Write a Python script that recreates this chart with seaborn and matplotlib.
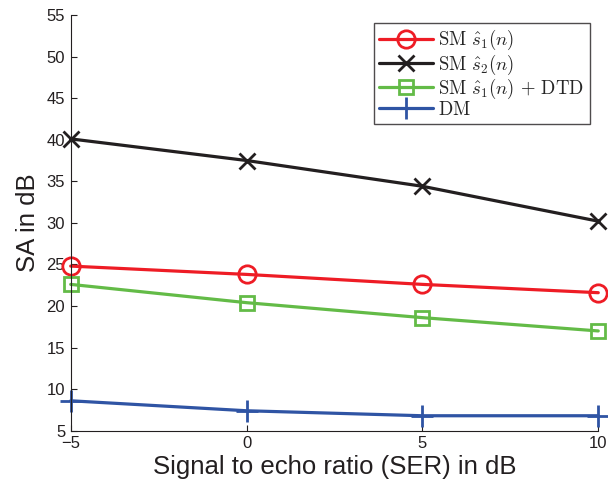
import matplotlib
matplotlib.use("Agg")
import matplotlib.pyplot as plt
import seaborn as sns
import pandas as pd

ser = [-5, 0, 5, 10]
sm_s1 = [24.8, 23.8, 22.6, 21.6]
sm_s2 = [40.1, 37.5, 34.4, 30.2]
sm_s1_dtd = [22.6, 20.4, 18.6, 17.0]
dm = [8.6, 7.4, 6.8, 6.8]

labels = [r"$\mathrm{SM}\ \hat{s}_1(n)$", r"$\mathrm{SM}\ \hat{s}_2(n)$",
          r"$\mathrm{SM}\ \hat{s}_1(n)\,+\,\mathrm{DTD}$", r"$\mathrm{DM}$"]
xticks = [-5, 0, 5, 10]
yticks = [5, 10, 15, 20, 25, 30, 35, 40, 45, 50, 55]
xlabel = "Signal to echo ratio (SER) in dB"
ylabel = "SA in dB"

sns.set_style("ticks")
plt.rcParams["font.family"] = ["Liberation Sans", "DejaVu Sans"]
plt.rcParams["mathtext.fontset"] = "cm"
txt = "#231F20"

fig = plt.figure(figsize=(6.08, 4.84), dpi=100)
ax = fig.add_axes([0.1163, 0.1101, 0.8677, 0.8589])

series = [sm_s1, sm_s2, sm_s1_dtd, dm]
colors = ["#EE1C25", "#231F20", "#63BB47", "#2F54A4"]
markers = ["o", "x", "s", "+"]
msizes = [12.5, 12, 10, 16]

for vals, c, m, ms, lab in zip(series, colors, markers, msizes, labels):
    df = pd.DataFrame({"SER": ser, "SA": vals})
    sns.lineplot(data=df, x="SER", y="SA", ax=ax, color=c, marker=m,
                 markersize=ms, markerfacecolor="none", markeredgecolor=c,
                 markeredgewidth=2.0, linewidth=2.3, label=lab, clip_on=False)

ax.set_xlim(-5, 10)
ax.set_ylim(5, 55)
ax.set_xticks(xticks)
ax.set_yticks(yticks)
ax.tick_params(direction="in", length=4, width=0.8, labelsize=12,
               colors=txt, pad=4)
for s in ["top", "right"]:
    ax.spines[s].set_visible(False)
for s in ["left", "bottom"]:
    ax.spines[s].set_color(txt)
    ax.spines[s].set_linewidth(0.8)
ax.set_xlabel(xlabel, fontsize=18.5, color=txt, labelpad=3)
ax.set_ylabel(ylabel, fontsize=18.5, color=txt, labelpad=5)

leg = ax.legend(loc="upper right", bbox_to_anchor=(0.984, 0.9815),
                borderaxespad=0, fontsize=13.5, frameon=True, fancybox=False,
                edgecolor="#231F20", handlelength=2.85, handletextpad=0.3,
                labelspacing=0.0, borderpad=0.3)
leg.get_frame().set_linewidth(1.0)

fig.savefig("out.png", dpi=100)
